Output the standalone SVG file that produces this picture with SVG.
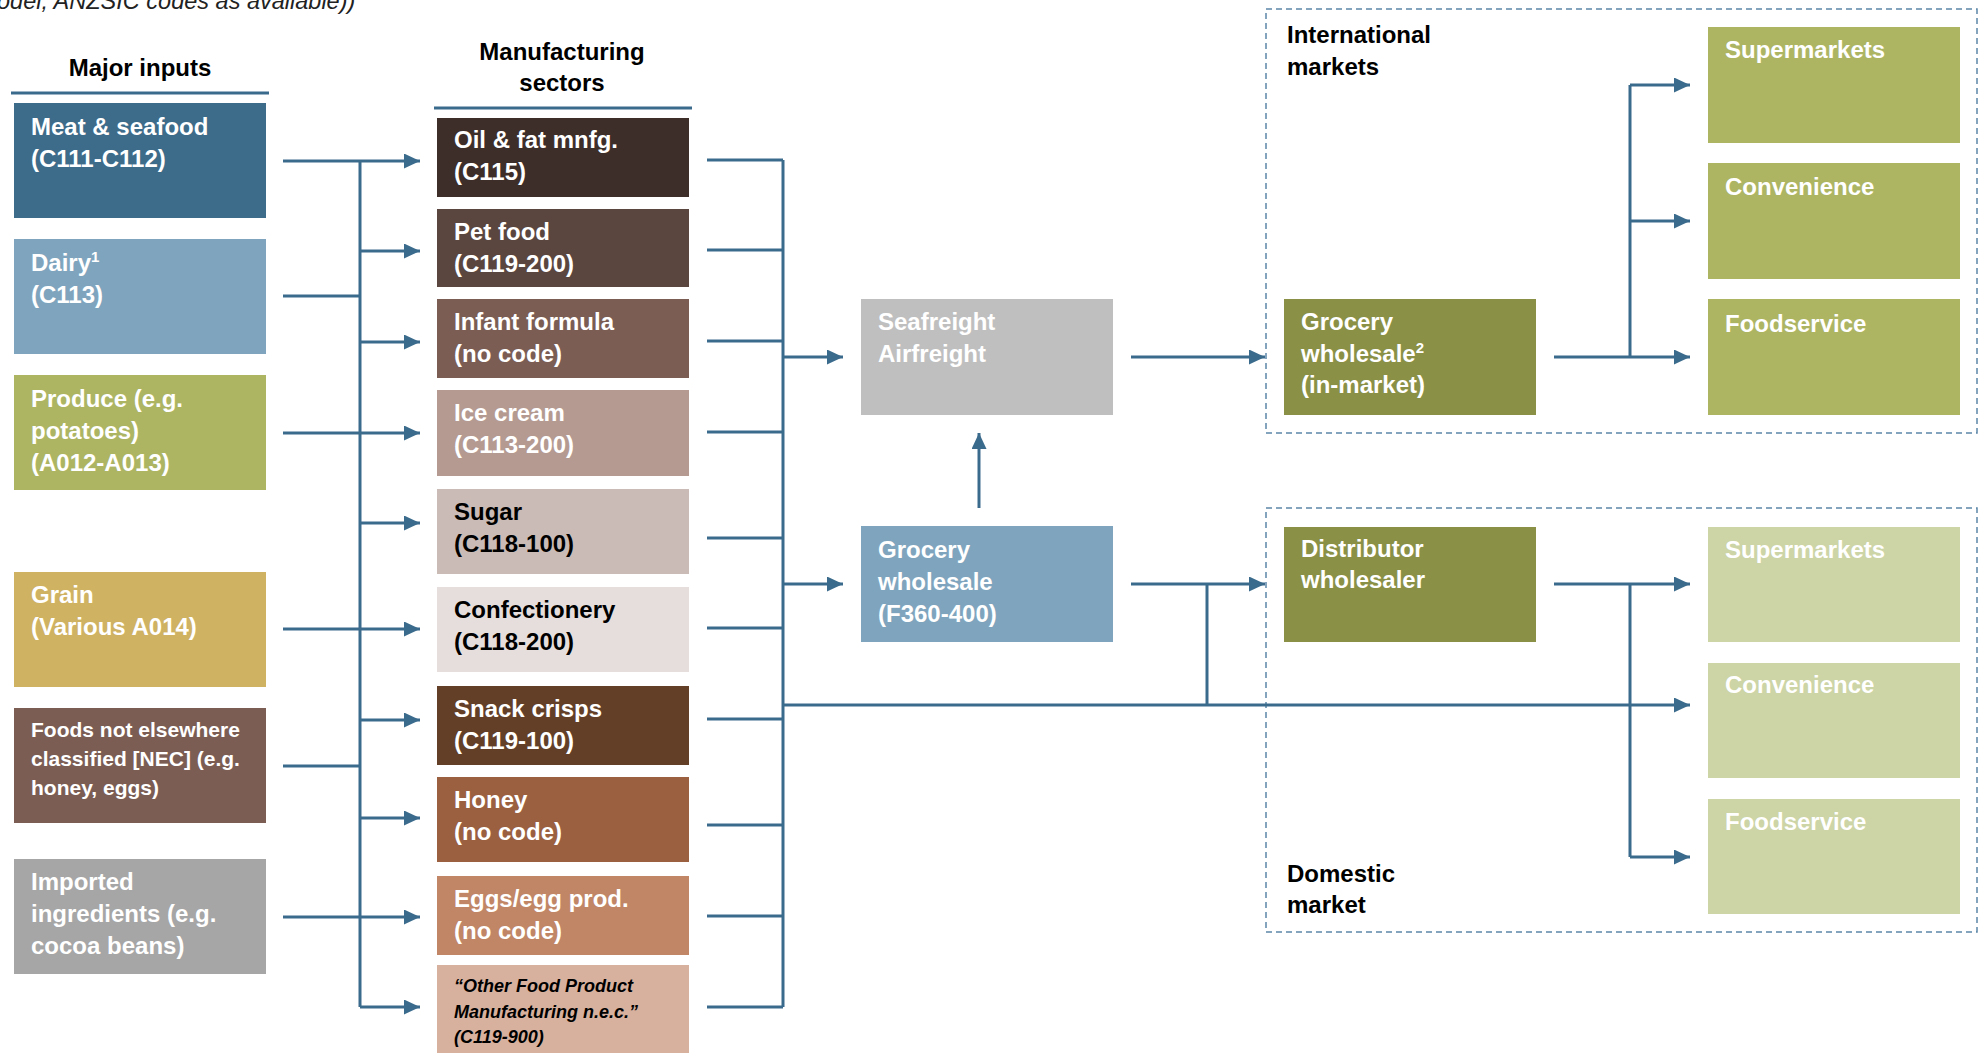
<svg xmlns="http://www.w3.org/2000/svg" width="1979" height="1053" viewBox="0 0 1979 1053">
  <defs>
    <marker id="arrow" markerUnits="userSpaceOnUse" markerWidth="17" markerHeight="16" refX="16" refY="7.5" orient="auto">
      <path d="M0,0 L16,7.5 L0,15 z" fill="#3B6B8C"/>
    </marker>
    <style>
      text { font-family: "Liberation Sans", Arial, sans-serif; font-weight: bold; font-size: 24px; }
      .w { fill: #ffffff; }
      .k { fill: #000000; }
      .small { font-size: 21px; }
      .note { font-size: 18px; font-style: italic; }
      .sup { font-size: 15px; }
      .cap { font-weight: normal; font-style: italic; font-size: 23.5px; fill: #222222; }
      .hdr { fill: #000000; text-anchor: middle; }
      .rule { stroke: #3B6B8C; stroke-width: 3; fill: none; }
      .zone { fill: none; stroke: #5B87A6; stroke-width: 1.5; stroke-dasharray: 6 4; }
      .conn path { stroke: #3B6B8C; stroke-width: 3; fill: none; }
      .conn path.arr { marker-end: url(#arrow); }
    </style>
  </defs>
  <rect width="1979" height="1053" fill="#ffffff"/>

  <!-- caption fragment at the top edge -->
  <text class="cap" x="-3" y="9">odel, ANZSIC codes as available))</text>

  <!-- column headers -->
  <g id="hdr-inputs">
    <text class="hdr" x="140" y="76">Major inputs</text>
    <path class="rule" d="M11,93 H269"/>
  </g>
  <g id="hdr-mfg">
    <text class="hdr" x="562" y="60">Manufacturing</text>
    <text class="hdr" x="562" y="91">sectors</text>
    <path class="rule" d="M434,108 H692"/>
  </g>

  <!-- market zones -->
  <g id="zone-international">
    <rect class="zone" x="1266" y="9" width="711" height="424"/>
    <text class="k" x="1287" y="43">International</text>
    <text class="k" x="1287" y="75">markets</text>
  </g>
  <g id="zone-domestic">
    <rect class="zone" x="1266" y="508" width="711" height="424"/>
    <text class="k" x="1287" y="882">Domestic</text>
    <text class="k" x="1287" y="913">market</text>
  </g>

  <!-- major inputs -->
  <g id="in-meat">
    <rect x="14" y="103" width="252" height="115" fill="#3D6B8A"/>
    <text class="w" x="31" y="135">Meat &amp; seafood</text>
    <text class="w" x="31" y="167">(C111-C112)</text>
  </g>
  <g id="in-dairy">
    <rect x="14" y="239" width="252" height="115" fill="#7FA5BE"/>
    <text class="w" x="31" y="271">Dairy<tspan class="sup" dy="-9">1</tspan></text>
    <text class="w" x="31" y="303">(C113)</text>
  </g>
  <g id="in-produce">
    <rect x="14" y="375" width="252" height="115" fill="#ADB563"/>
    <text class="w" x="31" y="407">Produce (e.g.</text>
    <text class="w" x="31" y="439">potatoes)</text>
    <text class="w" x="31" y="471">(A012-A013)</text>
  </g>
  <g id="in-grain">
    <rect x="14" y="572" width="252" height="115" fill="#CFB262"/>
    <text class="w" x="31" y="603">Grain</text>
    <text class="w" x="31" y="635">(Various A014)</text>
  </g>
  <g id="in-nec">
    <rect x="14" y="708" width="252" height="115" fill="#7B5D53"/>
    <text class="w small" x="31" y="737">Foods not elsewhere</text>
    <text class="w small" x="31" y="766">classified [NEC] (e.g.</text>
    <text class="w small" x="31" y="795">honey, eggs)</text>
  </g>
  <g id="in-imported">
    <rect x="14" y="859" width="252" height="115" fill="#A6A6A6"/>
    <text class="w" x="31" y="890">Imported</text>
    <text class="w" x="31" y="922">ingredients (e.g.</text>
    <text class="w" x="31" y="954">cocoa beans)</text>
  </g>

  <!-- manufacturing sectors -->
  <g id="mfg-oil">
    <rect x="437" y="118" width="252" height="79" fill="#3E2E2A"/>
    <text class="w" x="454" y="148">Oil &amp; fat mnfg.</text>
    <text class="w" x="454" y="180">(C115)</text>
  </g>
  <g id="mfg-pet">
    <rect x="437" y="209" width="252" height="78" fill="#5A463F"/>
    <text class="w" x="454" y="240">Pet food</text>
    <text class="w" x="454" y="272">(C119-200)</text>
  </g>
  <g id="mfg-infant">
    <rect x="437" y="299" width="252" height="79" fill="#7B5D53"/>
    <text class="w" x="454" y="330">Infant formula</text>
    <text class="w" x="454" y="362">(no code)</text>
  </g>
  <g id="mfg-icecream">
    <rect x="437" y="390" width="252" height="86" fill="#B59A91"/>
    <text class="w" x="454" y="421">Ice cream</text>
    <text class="w" x="454" y="453">(C113-200)</text>
  </g>
  <g id="mfg-sugar">
    <rect x="437" y="489" width="252" height="85" fill="#CABBB6"/>
    <text class="k" x="454" y="520">Sugar</text>
    <text class="k" x="454" y="552">(C118-100)</text>
  </g>
  <g id="mfg-confectionery">
    <rect x="437" y="587" width="252" height="85" fill="#E6DEDC"/>
    <text class="k" x="454" y="618">Confectionery</text>
    <text class="k" x="454" y="650">(C118-200)</text>
  </g>
  <g id="mfg-snack">
    <rect x="437" y="686" width="252" height="79" fill="#633F28"/>
    <text class="w" x="454" y="717">Snack crisps</text>
    <text class="w" x="454" y="749">(C119-100)</text>
  </g>
  <g id="mfg-honey">
    <rect x="437" y="777" width="252" height="85" fill="#9B603F"/>
    <text class="w" x="454" y="808">Honey</text>
    <text class="w" x="454" y="840">(no code)</text>
  </g>
  <g id="mfg-eggs">
    <rect x="437" y="876" width="252" height="79" fill="#C18665"/>
    <text class="w" x="454" y="907">Eggs/egg prod.</text>
    <text class="w" x="454" y="939">(no code)</text>
  </g>
  <g id="mfg-other">
    <rect x="437" y="965" width="252" height="90" fill="#D8B19E"/>
    <text class="k note" x="454" y="992">“Other Food Product</text>
    <text class="k note" x="454" y="1018">Manufacturing n.e.c.”</text>
    <text class="k note" x="454" y="1043">(C119-900)</text>
  </g>

  <!-- freight and wholesale -->
  <g id="freight">
    <rect x="861" y="299" width="252" height="116" fill="#BFBFBF"/>
    <text class="w" x="878" y="330">Seafreight</text>
    <text class="w" x="878" y="362">Airfreight</text>
  </g>
  <g id="grocery-wholesale">
    <rect x="861" y="526" width="252" height="116" fill="#7FA5BE"/>
    <text class="w" x="878" y="558">Grocery</text>
    <text class="w" x="878" y="590">wholesale</text>
    <text class="w" x="878" y="622">(F360-400)</text>
  </g>
  <g id="intl-wholesale">
    <rect x="1284" y="299" width="252" height="116" fill="#8A9045"/>
    <text class="w" x="1301" y="330">Grocery</text>
    <text class="w" x="1301" y="362">wholesale<tspan class="sup" dy="-9">2</tspan></text>
    <text class="w" x="1301" y="393">(in-market)</text>
  </g>
  <g id="distributor">
    <rect x="1284" y="527" width="252" height="115" fill="#8A9045"/>
    <text class="w" x="1301" y="557">Distributor</text>
    <text class="w" x="1301" y="588">wholesaler</text>
  </g>

  <!-- retail channels -->
  <g id="intl-supermarkets">
    <rect x="1708" y="27" width="252" height="116" fill="#ADB563"/>
    <text class="w" x="1725" y="58">Supermarkets</text>
  </g>
  <g id="intl-convenience">
    <rect x="1708" y="163" width="252" height="116" fill="#ADB563"/>
    <text class="w" x="1725" y="195">Convenience</text>
  </g>
  <g id="intl-foodservice">
    <rect x="1708" y="299" width="252" height="116" fill="#ADB563"/>
    <text class="w" x="1725" y="332">Foodservice</text>
  </g>
  <g id="dom-supermarkets">
    <rect x="1708" y="527" width="252" height="115" fill="#CDD4A5"/>
    <text class="w" x="1725" y="558">Supermarkets</text>
  </g>
  <g id="dom-convenience">
    <rect x="1708" y="663" width="252" height="115" fill="#CDD4A5"/>
    <text class="w" x="1725" y="693">Convenience</text>
  </g>
  <g id="dom-foodservice">
    <rect x="1708" y="799" width="252" height="115" fill="#CDD4A5"/>
    <text class="w" x="1725" y="830">Foodservice</text>
  </g>

  <!-- connectors -->
  <g id="connectors" class="conn">
    <!-- inputs into the first bus -->
    <path d="M283,161 H360"/>
    <path d="M283,296 H360"/>
    <path d="M283,433 H360"/>
    <path d="M283,629 H360"/>
    <path d="M283,766 H360"/>
    <path d="M283,917 H360"/>
    <path d="M360,161 V1007"/>
    <!-- bus into each sector -->
    <path class="arr" d="M360,161 H420"/>
    <path class="arr" d="M360,251 H420"/>
    <path class="arr" d="M360,342 H420"/>
    <path class="arr" d="M360,433 H420"/>
    <path class="arr" d="M360,523 H420"/>
    <path class="arr" d="M360,629 H420"/>
    <path class="arr" d="M360,720 H420"/>
    <path class="arr" d="M360,818 H420"/>
    <path class="arr" d="M360,917 H420"/>
    <path class="arr" d="M360,1007 H420"/>
    <!-- sectors into the second bus -->
    <path d="M707,160 H783"/>
    <path d="M707,250 H783"/>
    <path d="M707,341 H783"/>
    <path d="M707,432 H783"/>
    <path d="M707,538 H783"/>
    <path d="M707,628 H783"/>
    <path d="M707,719 H783"/>
    <path d="M707,825 H783"/>
    <path d="M707,916 H783"/>
    <path d="M707,1007 H783"/>
    <path d="M783,160 V1007"/>
    <path class="arr" d="M783,357 H843"/>
    <path class="arr" d="M783,584 H843"/>
    <!-- wholesale up to freight -->
    <path class="arr" d="M979,508 V433"/>
    <!-- freight to international wholesale -->
    <path class="arr" d="M1131,357 H1265"/>
    <!-- grocery wholesale to distributor -->
    <path class="arr" d="M1131,584 H1265"/>
    <path d="M1207,584 V705"/>
    <!-- direct line to domestic convenience -->
    <path class="arr" d="M783,705 H1690"/>
    <!-- international fan-out -->
    <path class="arr" d="M1554,357 H1690"/>
    <path d="M1630,357 V85"/>
    <path class="arr" d="M1630,85 H1690"/>
    <path class="arr" d="M1630,221 H1690"/>
    <!-- domestic fan-out -->
    <path class="arr" d="M1554,584 H1690"/>
    <path d="M1630,584 V857"/>
    <path class="arr" d="M1630,857 H1690"/>
  </g>
</svg>
